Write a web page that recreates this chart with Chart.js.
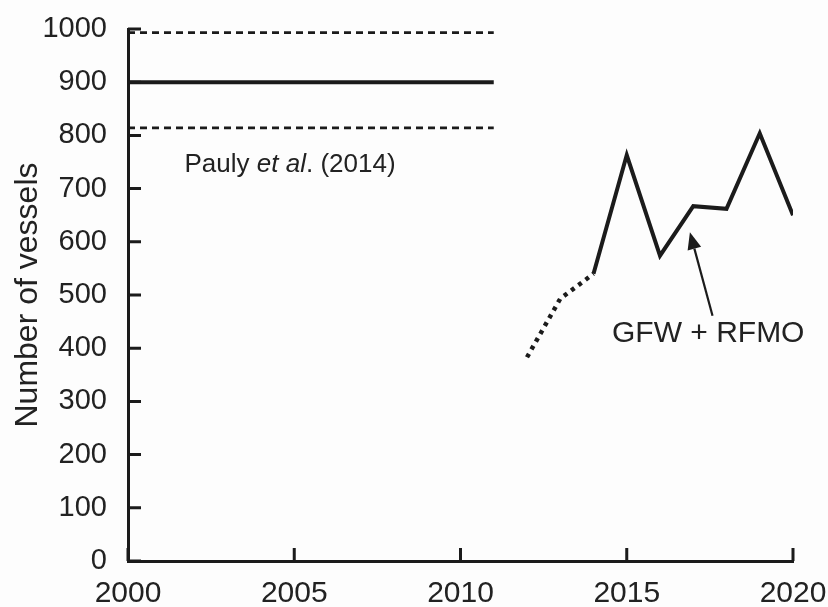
<!DOCTYPE html>
<html>
<head>
<meta charset="utf-8">
<script src="https://cdn.jsdelivr.net/npm/chart.js@4.4.1/dist/chart.umd.min.js"></script>
<style>
  html, body { margin: 0; padding: 0; background: #fdfdfd; }
  #wrap { width: 828px; height: 607px; }
</style>
</head>
<body>
<div id="wrap"><canvas id="myCanvas" width="828" height="607"></canvas></div>
<script>
'use strict';

// data

const paulyYears = [2000, 2011];
const paulyMean = [900, 900];
const paulyUpper = [993, 993];
const paulyLower = [814, 814];

const gfwEarlyYears = [2012, 2013, 2014];
const gfwEarlyValues = [383, 493, 540];

const gfwYears = [2014, 2015, 2016, 2017, 2018, 2019, 2020];
const gfwValues = [540, 763, 574, 667, 662, 804, 650];

const xTicks = [2000, 2005, 2010, 2015, 2020];
const yTicks = [0, 100, 200, 300, 400, 500, 600, 700, 800, 900, 1000];

const ink = '#1b1b1b';
const fontFamily = '"Liberation Sans", Arial, sans-serif';

function toPoints(xs, ys) {
  let pts = [];
  for (let i = 0; i < xs.length; i++) {
    pts.push({ x: xs[i], y: ys[i] });
  }
  return pts;
}

function lineSet(xs, ys, width, dash) {
  return {
    data: toPoints(xs, ys),
    borderColor: ink,
    borderWidth: width,
    borderDash: dash,
    borderCapStyle: 'butt',
    borderJoinStyle: 'miter',
    pointRadius: 0,
    tension: 0,
    fill: false
  };
}

// inward tick marks, text labels and the arrow
const decorations = {
  id: 'decorations',
  afterDraw(chart) {
    const ctx = chart.ctx;
    const xs = chart.scales.x;
    const ys = chart.scales.y;
    const area = chart.chartArea;
    ctx.save();
    ctx.strokeStyle = ink;
    ctx.lineWidth = 3;
    ctx.beginPath();
    yTicks.forEach(v => {
      const py = ys.getPixelForValue(v);
      ctx.moveTo(area.left, py);
      ctx.lineTo(area.left + 13, py);
    });
    xTicks.forEach(v => {
      const px = xs.getPixelForValue(v);
      ctx.moveTo(px, area.bottom);
      ctx.lineTo(px, area.bottom - 13);
    });
    ctx.stroke();

    ctx.fillStyle = '#222';
    ctx.textBaseline = 'middle';
    ctx.textAlign = 'left';
    // Pauly et al. (2014)
    let tx = xs.getPixelForValue(2001.7);
    let ty = ys.getPixelForValue(744);
    const part1 = 'Pauly ';
    const part2 = 'et al';
    const part3 = '. (2014)';
    ctx.font = '26px ' + fontFamily;
    ctx.fillText(part1, tx, ty);
    tx += ctx.measureText(part1).width;
    ctx.font = 'italic 26px ' + fontFamily;
    ctx.fillText(part2, tx, ty);
    tx += ctx.measureText(part2).width;
    ctx.font = '26px ' + fontFamily;
    ctx.fillText(part3, tx, ty);

    // GFW + RFMO
    ctx.font = '30px ' + fontFamily;
    ctx.textAlign = 'center';
    ctx.fillText('GFW + RFMO', xs.getPixelForValue(2017.45), ys.getPixelForValue(427));

    // arrow
    const x0 = xs.getPixelForValue(2017.58);
    const y0 = ys.getPixelForValue(461);
    const x1 = xs.getPixelForValue(2016.9);
    const y1 = ys.getPixelForValue(618);
    const ang = Math.atan2(y1 - y0, x1 - x0);
    const headLen = 17;
    const headHalf = 7;
    const bx = x1 - headLen * Math.cos(ang);
    const by = y1 - headLen * Math.sin(ang);
    ctx.lineWidth = 2.2;
    ctx.beginPath();
    ctx.moveTo(x0, y0);
    ctx.lineTo(bx, by);
    ctx.stroke();
    ctx.fillStyle = ink;
    ctx.beginPath();
    ctx.moveTo(x1, y1);
    ctx.lineTo(bx + headHalf * Math.sin(ang), by - headHalf * Math.cos(ang));
    ctx.lineTo(bx - headHalf * Math.sin(ang), by + headHalf * Math.cos(ang));
    ctx.closePath();
    ctx.fill();
    ctx.restore();
  }
};

const config = {
  type: 'line',
  data: {
    datasets: [
      lineSet(paulyYears, paulyUpper, 2.8, [7, 5]),
      lineSet(paulyYears, paulyMean, 4, []),
      lineSet(paulyYears, paulyLower, 2.8, [7, 5]),
      lineSet(gfwEarlyYears, gfwEarlyValues, 4.5, [4, 5]),
      lineSet(gfwYears, gfwValues, 4, [])
    ]
  },
  options: {
    responsive: false,
    animation: false,
    events: [],
    layout: { padding: { top: 29, right: 35, left: 0, bottom: 0 } },
    plugins: {
      legend: { display: false },
      tooltip: { enabled: false }
    },
    scales: {
      x: {
        type: 'linear',
        min: 2000,
        max: 2020,
        afterBuildTicks: s => { s.ticks = xTicks.map(v => ({ value: v })); },
        afterFit: s => { s.height = 46; s.paddingLeft = 0; s.paddingRight = 0; },
        grid: { display: false },
        border: { display: true, color: ink, width: 3 },
        ticks: {
          color: '#222',
          padding: 7,
          maxRotation: 0,
          font: { family: fontFamily, size: 30 },
          callback: v => String(v)
        }
      },
      y: {
        min: 0,
        max: 1000,
        afterBuildTicks: s => { s.ticks = yTicks.map(v => ({ value: v })); },
        afterFit: s => { s.width = 128; s.paddingTop = 0; s.paddingBottom = 0; },
        grid: { display: false },
        border: { display: true, color: ink, width: 3 },
        ticks: {
          color: '#222',
          padding: 13,
          font: { family: fontFamily, size: 29 },
          callback: v => String(v)
        },
        title: {
          display: true,
          text: 'Number of vessels',
          color: '#222',
          padding: { top: 9, bottom: 0 },
          font: { family: fontFamily, size: 32 }
        }
      }
    }
  },
  plugins: [decorations]
};

const chart = new Chart(document.getElementById('myCanvas'), config);
</script>
</body>
</html>
